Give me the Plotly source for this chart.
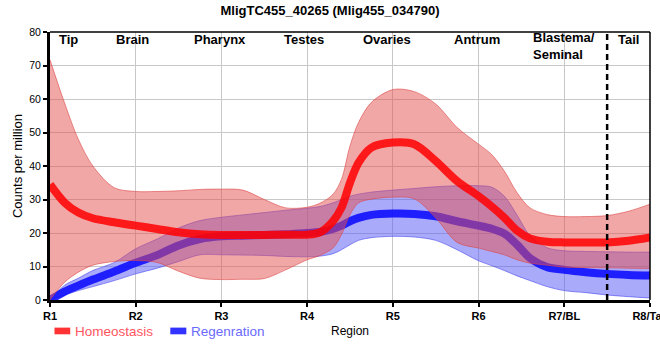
import plotly.graph_objects as go

# ---------------- data ----------------
x_pos = [1, 1.17, 1.33, 1.5, 1.75, 2, 2.25, 2.5, 2.75, 3, 3.25, 3.5, 3.75, 4,
         4.15, 4.3, 4.4, 4.5, 4.6, 4.75, 5, 5.25, 5.5, 5.75, 6, 6.15, 6.3, 6.45,
         6.6, 6.8, 7, 7.25, 7.5, 7.75, 8]

homeo_mean = [34.5, 29.1, 26.1, 24.4, 23.2, 22.2, 21.2, 20.2, 19.6, 19.4, 19.4, 19.4, 19.5, 19.5,
              20.2, 23.5, 27.5, 35.0, 41.0, 45.5, 47.0, 46.5, 41.5, 35.5, 31.0, 28.0, 24.6, 20.7,
              18.4, 17.4, 17.2, 17.2, 17.2, 17.7, 18.7]
homeo_upper = [71.7, 58.8, 48.0, 40.0, 33.5, 32.4, 32.4, 32.6, 33.0, 33.1, 32.8, 30.0, 27.5, 27.7,
               28.9, 31.5, 36.0, 46.0, 53.0, 59.0, 62.8, 62.2, 58.5, 51.5, 46.5, 43.5, 38.5, 32.0,
               27.5, 25.5, 24.9, 24.9, 25.2, 26.5, 28.6]
homeo_lower = [0.0, 5.3, 8.3, 10.4, 11.5, 11.8, 11.2, 8.6, 6.5, 6.1, 6.2, 6.4, 9.0, 12.0,
               13.3, 15.5, 19.5, 25.5, 29.0, 30.1, 30.7, 30.2, 24.5, 17.2, 15.5, 14.5, 13.5, 12.0,
               11.0, 10.4, 9.8, 9.7, 9.6, 9.5, 9.4]

regen_mean = [0.0, 2.5, 4.3, 6.1, 8.5, 11.1, 13.4, 16.3, 18.2, 19.0, 19.2, 19.4, 19.6, 20.0,
              20.3, 21.2, 22.2, 23.5, 24.5, 25.4, 25.8, 25.7, 25.0, 23.5, 22.2, 21.3, 19.8, 16.5,
              12.5, 9.8, 9.0, 8.3, 7.8, 7.5, 7.3]
regen_upper = [0.0, 4.4, 6.5, 8.8, 11.2, 15.3, 18.2, 21.5, 23.7, 24.7, 25.4, 26.1, 26.8, 27.4,
               27.9, 29.0, 30.0, 31.0, 31.6, 32.2, 32.8, 33.3, 33.8, 34.1, 34.1, 33.7, 31.0, 25.3,
               19.2, 15.6, 14.7, 14.5, 14.4, 14.3, 14.3]
regen_lower = [0.0, 1.5, 2.8, 4.0, 5.8, 7.8, 9.5, 11.5, 13.5, 13.5, 13.4, 13.3, 13.0, 12.9,
               13.1, 13.8, 15.0, 16.5, 17.8, 18.6, 19.0, 18.8, 17.8, 15.0, 11.7, 10.3, 8.8, 7.2,
               5.8, 4.0, 2.8, 2.2, 1.5, 1.0, 0.6]

tick_vals = [1, 2, 3, 4, 5, 6, 7, 8]
tick_text = ["R1", "R2", "R3", "R4", "R5", "R6", "R7/BL", "R8/Tail"]
region_names = ["Tip", "Brain", "Pharynx", "Testes", "Ovaries", "Antrum", "Blastema/<br>Seminal", "Tail"]
series_names = ["Homeostasis", "Regenration"]

# ---------------- styles ----------------
FONT = "Liberation Sans, Arial, sans-serif"
red_line = "rgba(255,0,0,0.85)"
red_fill = "rgba(230,80,80,0.5)"
red_edge = "rgba(220,70,70,0.6)"
blue_line = "rgba(10,10,255,0.88)"
blue_fill = "rgba(85,85,245,0.5)"
blue_edge = "rgba(70,70,240,0.6)"
SMOOTH = 0.9

fig = go.Figure()

def band(lower, upper, edge, fill):
    fig.add_trace(go.Scatter(x=x_pos, y=lower, mode="lines",
                             line=dict(color=edge, width=1, shape="spline", smoothing=SMOOTH),
                             showlegend=False, hoverinfo="skip"))
    fig.add_trace(go.Scatter(x=x_pos, y=upper, mode="lines", fill="tonexty", fillcolor=fill,
                             line=dict(color=edge, width=1, shape="spline", smoothing=SMOOTH),
                             showlegend=False, hoverinfo="skip"))

band(regen_lower, regen_upper, blue_edge, blue_fill)
fig.add_trace(go.Scatter(x=x_pos, y=regen_mean, mode="lines", name=series_names[1],
                         line=dict(color=blue_line, width=8, shape="spline", smoothing=SMOOTH),
                         showlegend=False))
band(homeo_lower, homeo_upper, red_edge, red_fill)
fig.add_trace(go.Scatter(x=x_pos, y=homeo_mean, mode="lines", name=series_names[0],
                         line=dict(color=red_line, width=8, shape="spline", smoothing=SMOOTH),
                         showlegend=False))

# region labels along the top
label_x = [1.22, 1.96, 2.985, 3.96, 4.935, 5.98, 7.0, 7.75]
annotations = []
for name, lx in zip(region_names, label_x):
    two = "<br>" in name
    annotations.append(dict(x=lx, y=0.946 if two else 0.973, xref="x", yref="paper",
                            text=name, showarrow=False, align="left",
                            xanchor="center", yanchor="middle",
                            font=dict(family=FONT, size=13, color="black", weight="bold")))

# manual legend
leg = [(series_names[0], 0.0075, 0.0337, 0.039, "#ff3333", "#ff5560"),
       (series_names[1], 0.2005, 0.2272, 0.2315, "#3333ff", "#6a6aff")]
shapes = []
for name, x0, x1, tx, c, tc in leg:
    shapes.append(dict(type="rect", xref="paper", yref="paper", x0=x0, x1=x1,
                       y0=-0.128, y1=-0.103, fillcolor=c, line=dict(width=0)))
    annotations.append(dict(x=tx, y=-0.117, xref="paper", yref="paper", text=name,
                            showarrow=False, xanchor="left", yanchor="middle",
                            font=dict(family=FONT, size=13.5, color=tc)))

# dashed separator and top/right frame
shapes.append(dict(type="line", xref="x", yref="paper", x0=7.5, x1=7.5, y0=0, y1=1,
                   line=dict(color="black", width=2.5, dash="6px,4px")))
shapes.append(dict(type="line", xref="paper", yref="paper", x0=0, x1=1, y0=1, y1=1,
                   line=dict(color="black", width=1.5)))
shapes.append(dict(type="line", xref="paper", yref="paper", x0=1, x1=1, y0=0, y1=1,
                   line=dict(color="black", width=1.5)))

fig.update_layout(
    width=660, height=360,
    margin=dict(l=50, r=10, t=32, b=60, autoexpand=False),
    paper_bgcolor="white", plot_bgcolor="white",
    title=dict(text="MligTC455_40265 (Mlig455_034790)", x=0.5, xanchor="center",
               y=0.972, yanchor="middle", yref="container",
               font=dict(family=FONT, size=13, color="black", weight="bold")),
    font=dict(family=FONT, color="black"),
    annotations=annotations, shapes=shapes,
    showlegend=False,
)
fig.update_xaxes(range=[1, 8], tickvals=tick_vals, ticktext=tick_text, automargin=False,
                 ticklabeloverflow="allow",
                 tickfont=dict(family=FONT, size=11, color="black", weight="bold"),
                 ticks="outside", ticklen=4, tickwidth=1.5, tickcolor="black",
                 showline=True, linewidth=3, linecolor="black",
                 showgrid=True, gridcolor="#c8c8c8", gridwidth=1, zeroline=False,
                 title=dict(text="Region", font=dict(family=FONT, size=12, color="black"), standoff=6))
fig.update_yaxes(range=[0, 80], dtick=10, automargin=False,
                 tickfont=dict(family=FONT, size=10.5, color="black"),
                 ticks="outside", ticklen=4, tickwidth=1.5, tickcolor="black",
                 showline=True, linewidth=3, linecolor="black",
                 showgrid=True, gridcolor="#c8c8c8", gridwidth=1, zeroline=False,
                 title=dict(text="Counts per million", font=dict(family=FONT, size=13, color="black"), standoff=4))

fig.write_html("out.html", config={"displayModeBar": False},
               post_script="document.body.style.margin='0';")
